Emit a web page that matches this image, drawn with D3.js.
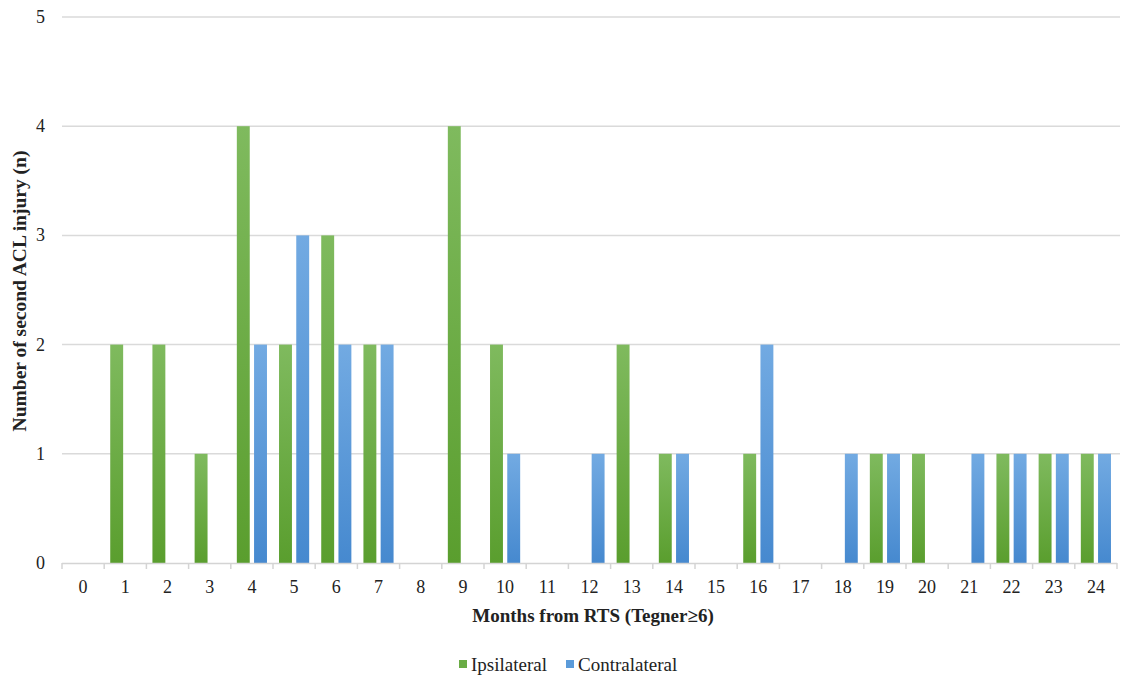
<!DOCTYPE html>
<html><head><meta charset="utf-8">
<script src="https://cdn.jsdelivr.net/npm/d3@7"></script>
<style>body{margin:0;background:#fff;}svg{display:block;} text{font-family:"Liberation Serif","DejaVu Serif",serif;}</style>
</head><body>
<svg id="c" width="1121" height="680"></svg>
<script>
const categories = ["0","1","2","3","4","5","6","7","8","9","10","11","12","13","14","15","16","17","18","19","20","21","22","23","24"];
const ipsilateral   = [0,2,2,1,4,2,3,2,0,4,2,0,0,2,1,0,1,0,0,1,1,0,1,1,1];
const contralateral = [0,0,0,0,2,3,2,2,0,0,1,0,1,0,1,0,2,0,1,1,0,1,1,1,1];
const seriesNames = ["Ipsilateral","Contralateral"];
const yTicks = [0,1,2,3,4,5];

const svg = d3.select("#c");
const m = {left:62, right:1117, top:17, bottom:563};

const defs = svg.append("defs");
function grad(id, top, bot){
  const g = defs.append("linearGradient").attr("id",id).attr("x1",0).attr("y1",0).attr("x2",0).attr("y2",1);
  g.append("stop").attr("offset","0%").attr("stop-color",top);
  g.append("stop").attr("offset","100%").attr("stop-color",bot);
}
grad("gGreen","#7fba5e","#5a9e2e");
grad("gBlue","#72aae2","#4689cf");
const fills = ["url(#gGreen)","url(#gBlue)"];
const legendColors = ["#6aac45","#5b9bd9"];

const x = d3.scaleBand().domain(categories).range([m.left, m.right]).paddingInner(0).paddingOuter(0);
const x1 = d3.scaleBand().domain(seriesNames).range([0, x.bandwidth()]).paddingInner(0.25).paddingOuter(0.35);
const y = d3.scaleLinear().domain([0,5]).range([m.bottom, m.top]);

// gridlines
svg.append("g").selectAll("line").data(yTicks.filter(d=>d>0)).join("line")
  .attr("x1", m.left).attr("x2", m.right+3)
  .attr("y1", d=>y(d)).attr("y2", d=>y(d))
  .attr("stroke","#dadada").attr("stroke-width",1.5);

// y labels
svg.append("g").selectAll("text").data(yTicks).join("text")
  .attr("x", 45).attr("y", d=>y(d)+6)
  .attr("text-anchor","end").attr("font-size",18).attr("fill","#222")
  .text(d=>d);

// bars
const data = categories.map((c,i)=>({c, vals:[ipsilateral[i], contralateral[i]]}));
const groups = svg.append("g").selectAll("g").data(data).join("g")
  .attr("transform", d=>`translate(${x(d.c)},0)`);
groups.selectAll("rect").data(d=>d.vals.map((v,j)=>({v,j})).filter(o=>o.v>0)).join("rect")
  .attr("x", o=>x1(seriesNames[o.j]))
  .attr("width", x1.bandwidth())
  .attr("y", o=>y(o.v))
  .attr("height", o=>y(0)-y(o.v))
  .attr("fill", o=>fills[o.j]);

// x axis
const xAxis = svg.append("g").attr("transform",`translate(0,${m.bottom})`);
xAxis.append("line").attr("x1",m.left).attr("x2",m.right).attr("y1",0.5).attr("y2",0.5)
  .attr("stroke","#d4d4d4").attr("stroke-width",1.5);
const bounds = categories.map(c=>x(c)).concat([m.right]);
xAxis.selectAll("line.t").data(bounds).join("line").attr("class","t")
  .attr("x1",d=>d).attr("x2",d=>d).attr("y1",0).attr("y2",6)
  .attr("stroke","#d4d4d4").attr("stroke-width",1.5);
xAxis.selectAll("text").data(categories).join("text")
  .attr("x", d=>x(d)+x.bandwidth()/2).attr("y", 30)
  .attr("text-anchor","middle").attr("font-size",18).attr("fill","#222")
  .text(d=>d);

// axis titles
svg.append("text").attr("x", 593).attr("y", 622).attr("text-anchor","middle")
  .attr("font-size",19).attr("font-weight","bold").attr("fill","#222")
  .text("Months from RTS (Tegner≥6)");
svg.append("text").attr("transform","translate(26,291) rotate(-90)").attr("text-anchor","middle")
  .attr("font-size",19.5).attr("font-weight","bold").attr("fill","#222")
  .text("Number of second ACL injury (n)");

// legend
const legX = [459, 566];
const leg = svg.append("g").selectAll("g").data(seriesNames).join("g")
  .attr("transform",(d,i)=>`translate(${legX[i]},671)`);
leg.append("rect").attr("x",0).attr("y",-11).attr("width",8).attr("height",8).attr("fill",(d,i)=>legendColors[i]);
leg.append("text").attr("x",12).attr("y",0).attr("font-size",19).attr("fill","#222").text(d=>d);
</script>
</body></html>
